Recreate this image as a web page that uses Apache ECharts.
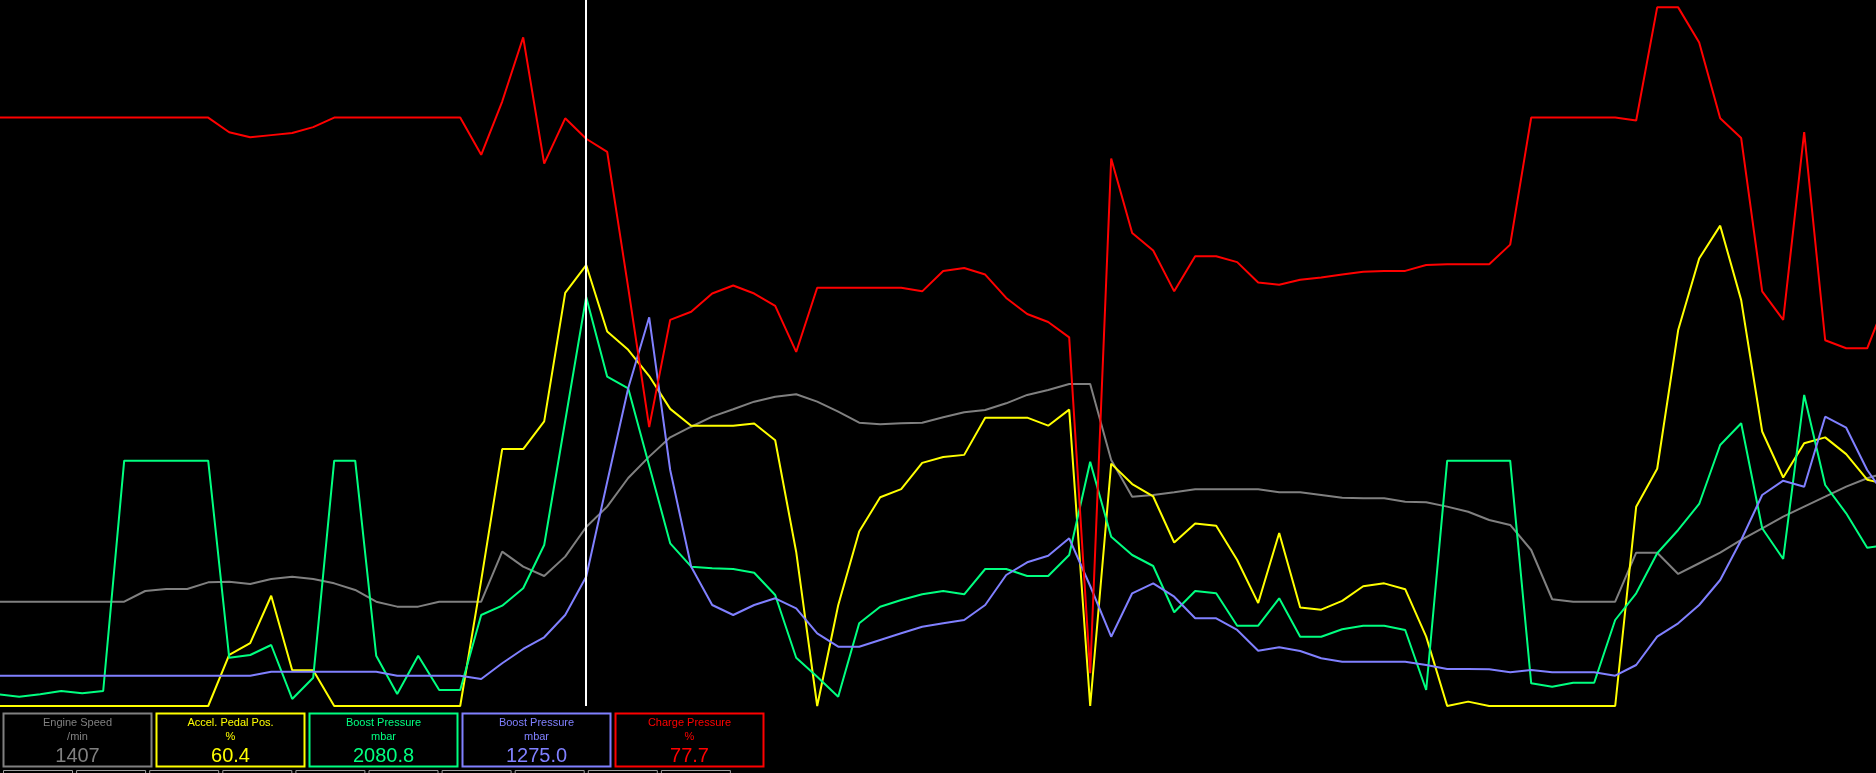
<!DOCTYPE html>
<html><head><meta charset="utf-8">
<script src="https://cdn.jsdelivr.net/npm/echarts@6/dist/echarts.min.js"></script>
<style>html,body{margin:0;padding:0;background:#000;overflow:hidden}#c{width:1876px;height:773px}</style>
</head><body><div id="c"></div><script>
// sample number of each logged point
const sampleNo = [0,1,2,3,4,5,6,7,8,9,10,11,12,13,14,15,16,17,18,19,20,21,22,23,24,25,26,27,28,29,30,31,32,33,34,35,36,37,38,39,40,41,42,43,44,45,46,47,48,49,50,51,52,53,54,55,56,57,58,59,60,61,62,63,64,65,66,67,68,69,70,71,72,73,74,75,76,77,78,79,80,81,82,83,84,85,86,87,88,89,90];
const cursorSample = 28;

// Engine Speed (/min)
const engineSpeed = [820,820,820,820,820,820,820,904,920,920,
 972,977,959,998,1016,998,964,912,820,781,
 781,820,820,820,1213,1095,1022,1174,1407,1567,
 1792,1960,2112,2195,2274,2332,2392,2431,2450,2392,
 2313,2227,2214,2222,2227,2269,2309,2327,2379,2445,
 2484,2531,2531,1934,1645,1659,1680,1703,1703,1703,
 1703,1680,1680,1659,1637,1633,1633,1606,1601,1567,
 1527,1462,1423,1226,839,820,820,820,1205,1205,
 1038,1122,1205,1305,1397,1488,1567,1645,1724,1790,
 1839];
// Accel. Pedal Pos. (%)
const pedalPos = [0,0,0,0,0,0,0,0,0,0,
 0,7.0,8.6,15.1,4.9,4.9,0,0,0,0,
 0,0,0,17.2,35.2,35.2,39.0,56.6,60.4,51.3,
 48.8,45.2,40.7,38.4,38.4,38.4,38.7,36.4,21.1,0,
 13.8,23.9,28.6,29.7,33.3,34.1,34.4,39.5,39.5,39.5,
 38.4,40.6,0,33.2,30.4,28.7,22.4,25.0,24.7,20.0,
 14.1,23.7,13.5,13.2,14.4,16.4,16.8,16.0,9.5,0,
 0.6,0,0,0,0,0,0,0,27.3,32.5,
 51.5,61.3,65.8,55.6,37.6,31.3,36.0,36.8,34.5,31.0,
 30.3];
// Boost Pressure, specified (mbar)
const boostSpec = [936.3,929.4,936.3,945.8,939.2,945.8,1609.1,1609.1,1609.1,1609.1,
 1609.1,1041.7,1049.5,1078.3,922.8,984.1,1609.1,1609.1,1047.5,937.2,
 1047.5,948.7,948.7,1164.7,1191.5,1241.6,1366.3,1723.4,2080.8,1851.0,
 1817.6,1594.7,1371.2,1303.8,1299.2,1297.2,1286.5,1222.3,1041.7,987.0,
 929.4,1140.8,1188.6,1207.9,1224.3,1233.8,1224.3,1297.2,1297.2,1277.0,
 1277.0,1337.5,1606.2,1390.2,1337.5,1305.8,1172.5,1233.8,1227.2,1133.9,
 1133.9,1212.8,1102.2,1102.2,1123.5,1133.9,1133.9,1121.5,948.7,1609.1,
 1609.1,1609.1,1609.1,968.0,958.2,969.7,969.7,1150.3,1227.2,1342.4,
 1409.5,1484.4,1654.3,1716.8,1414.4,1326.0,1798.3,1539.1,1457.6,1358.5,
 1366.3];
// Boost Pressure, actual (mbar)
const boostActual = [989.9,989.9,989.9,989.9,989.9,989.9,989.9,989.9,989.9,989.9,
 989.9,989.9,989.9,1001.4,1001.4,1001.4,1001.4,1001.4,1001.4,989.9,
 989.9,989.9,989.9,980.4,1025.6,1066.8,1100.5,1164.7,1275.0,1547.7,
 1817.6,2022.1,1582.3,1303.8,1193.5,1164.7,1193.5,1212.8,1184.0,1112.0,
 1073.4,1073.4,1092.7,1112.0,1131.0,1140.8,1150.3,1193.5,1279.9,1316.5,
 1335.5,1385.6,1248.2,1102.2,1227.2,1256.0,1217.4,1155.2,1155.2,1121.5,
 1061.9,1071.7,1061.0,1040.0,1030.2,1030.2,1030.2,1030.2,1020.7,1009.2,
 1009.2,1008.3,999.7,1006.3,999.7,999.7,999.7,989.9,1020.7,1102.2,
 1140.8,1193.5,1265.5,1380.7,1510.3,1551.5,1534.2,1735.8,1704.1,1582.3,
 1495.9];
// Charge Pressure (%)
const chargePressure = [80.6,80.6,80.6,80.6,80.6,80.6,80.6,80.6,80.6,80.6,
 80.6,78.6,77.9,78.2,78.5,79.3,80.6,80.6,80.6,80.6,
 80.6,80.6,80.6,75.5,82.8,91.6,74.3,80.5,77.7,75.9,
 57.3,38.2,52.9,54.0,56.5,57.6,56.5,54.8,48.5,57.3,
 57.3,57.3,57.3,57.3,56.8,59.6,60.0,59.1,55.9,53.7,
 52.6,50.5,4.5,75.0,64.8,62.4,56.8,61.6,61.6,60.8,
 58.0,57.7,58.4,58.7,59.1,59.5,59.6,59.6,60.4,60.5,
 60.5,60.5,63.2,80.6,80.6,80.6,80.6,80.6,80.2,95.7,
 95.7,90.9,80.5,77.8,56.8,52.9,78.6,50.1,49.0,49.0,
 56.3];

const channelNames = ['Engine Speed','Accel. Pedal Pos.','Boost Pressure','Boost Pressure','Charge Pressure'];
const channelUnits = ['/min','%','mbar','mbar','%'];
const channelDecimals = [0,1,1,1,1];

const channelData = [engineSpeed, pedalPos, boostSpec, boostActual, chargePressure];
const channelColors = ['#808080','#ffff00','#00ff80','#8080ff','#ff0000'];
const channelAxis = [1,0,2,2,0];

const font = '"Liberation Sans", Arial, sans-serif';
const chart = echarts.init(document.getElementById('c'), null, {renderer:'canvas'});

const series = channelData.map((arr, k) => {
  const s = {
    type: 'line', name: channelNames[k] + ' ' + channelUnits[k],
    yAxisIndex: channelAxis[k], symbol: 'none', silent: true,
    lineStyle: {color: channelColors[k], width: 2},
    itemStyle: {color: channelColors[k]},
    data: sampleNo.map((s, i) => [s, arr[i]])
  };
  if (k === channelData.length - 1) {
    s.markLine = {silent: true, symbol: ['none','none'], animation: false,
      label: {show: false}, lineStyle: {color: '#ffffff', width: 2, type: 'solid'},
      data: [{xAxis: cursorSample}]};
  }
  return s;
});

const graphics = [];
const cIdx = sampleNo.indexOf(cursorSample);
for (let k = 0; k < 5; k++) {
  const x = 3.5 + 153 * k;
  graphics.push({type:'rect', shape:{x:x, y:713.5, width:148, height:53},
    style:{fill:'#000', stroke:channelColors[k], lineWidth:2}, silent:true});
  const cx = x + 74;
  graphics.push({type:'text', style:{text:channelNames[k], x:cx, y:723, fill:channelColors[k],
    font:'11px ' + font, align:'center', verticalAlign:'middle'}, silent:true});
  graphics.push({type:'text', style:{text:channelUnits[k], x:cx, y:737, fill:channelColors[k],
    font:'11px ' + font, align:'center', verticalAlign:'middle'}, silent:true});
  graphics.push({type:'text', style:{text:channelData[k][cIdx].toFixed(channelDecimals[k]), x:cx, y:756, fill:channelColors[k],
    font:'20px ' + font, align:'center', verticalAlign:'middle'}, silent:true});
}
for (let b = 0; b < 10; b++) {
  graphics.push({type:'rect', shape:{x:3.5 + 73.1 * b, y:770.5, width:69, height:20},
    style:{fill:'#000', stroke:'#a0a0a0', lineWidth:1}, silent:true});
}

chart.setOption({
  backgroundColor: '#000',
  animation: false,
  grid: {left: 0, right: 0, top: 0, height: 706, containLabel: false},
  xAxis: {type: 'value', min: 0.0857, max: 89.42, show: false},
  yAxis: [
    {type: 'value', min: 0, max: 96.71, show: false},
    {type: 'value', min: 0, max: 5549, show: false},
    {type: 'value', min: 902.6, max: 2935.9, show: false}
  ],
  series: series,
  graphic: graphics
});
</script></body></html>
